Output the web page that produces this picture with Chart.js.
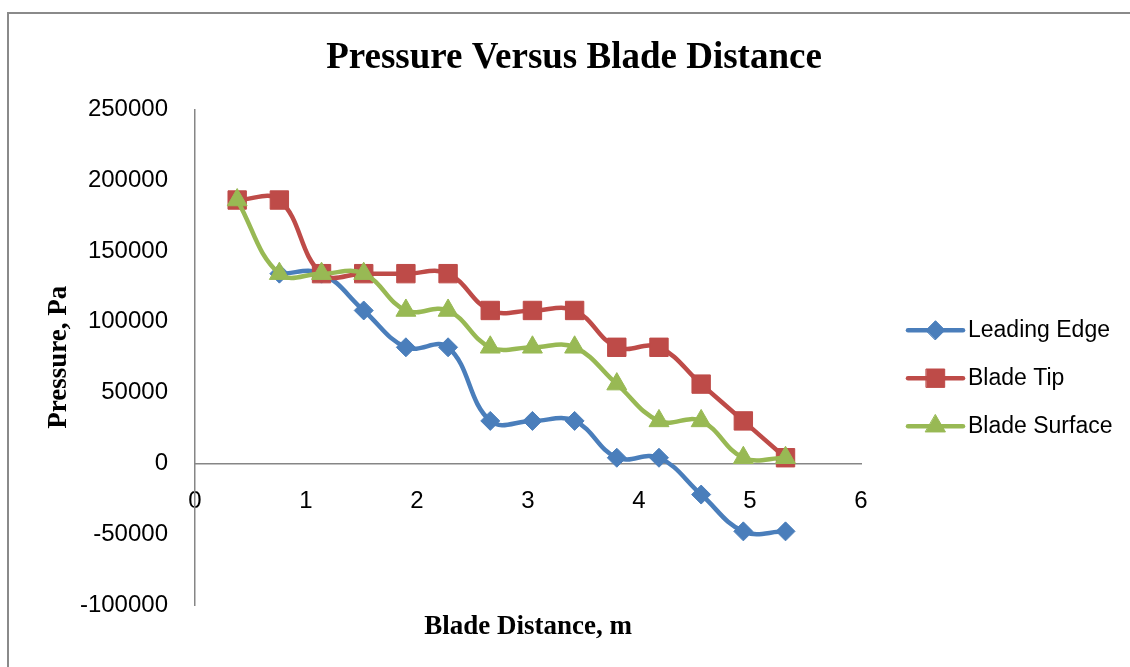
<!DOCTYPE html>
<html>
<head>
<meta charset="utf-8">
<title>Pressure Versus Blade Distance</title>
<script src="https://cdn.jsdelivr.net/npm/chart.js@4.4.1/dist/chart.umd.min.js"></script>
<style>
  html, body { margin: 0; padding: 0; background: #fff; }
  canvas { display: block; }
</style>
</head>
<body>
<canvas id="canvas" width="1130" height="667"></canvas>
<script>
// blade distance (m) and pressure (Pa)
var distance = [0.38, 0.76, 1.14, 1.52, 1.90, 2.28, 2.66, 3.04, 3.42, 3.80, 4.18, 4.56, 4.94, 5.32];
var leadingEdge = [null, 134000, 134000, 108000, 82000, 82000, 30000, 30000, 30000, 4000, 4000, -22000, -48000, -48000];
var bladeTip = [186000, 186000, 134000, 134000, 134000, 134000, 108000, 108000, 108000, 82000, 82000, 56000, 30000, 4000];
var bladeSurface = [186000, 134000, 134000, 134000, 108000, 108000, 82000, 82000, 82000, 56000, 30000, 30000, 4000, 4000];

var blue = '#4A7EBB', red = '#BE4B48', green = '#98B954';
var axisGrey = '#868686';

function toPoints(values) {
	var pts = [];
	values.forEach(function(v, i) {
		if (v !== null) pts.push({x: distance[i], y: v});
	});
	return pts;
}

// grey frame round the chart (only top and left edges are inside the picture)
var frame = {
	id: 'frame',
	beforeDraw: function(chart) {
		var ctx = chart.ctx;
		ctx.save();
		ctx.strokeStyle = '#8a8a8a';
		ctx.lineWidth = 2;
		ctx.beginPath();
		ctx.moveTo(8, chart.height);
		ctx.lineTo(8, 13);
		ctx.lineTo(chart.width, 13);
		ctx.stroke();
		ctx.restore();
	}
};

// Excel style legend: line with marker, then the label
var sideLegend = {
	id: 'sideLegend',
	afterDraw: function(chart) {
		var ctx = chart.ctx, area = chart.chartArea;
		var x0 = area.right + 47, x1 = x0 + 55, tx = x1 + 5;
		var yMid = (area.top + area.bottom) / 2 + 21;
		ctx.save();
		ctx.font = '23px "Liberation Sans"';
		ctx.textBaseline = 'middle';
		ctx.textAlign = 'left';
		chart.data.datasets.forEach(function(ds, i) {
			var y = yMid + (i - 1) * 48;
			ctx.strokeStyle = ds.borderColor;
			ctx.lineWidth = ds.borderWidth;
			ctx.lineCap = 'round';
			ctx.beginPath();
			ctx.moveTo(x0, y);
			ctx.lineTo(x1, y);
			ctx.stroke();
			ctx.fillStyle = ds.backgroundColor;
			ctx.lineWidth = 1;
			Chart.helpers.drawPoint(ctx, {pointStyle: ds.pointStyle, radius: ds.pointRadius, rotation: 0, borderWidth: 1}, (x0 + x1) / 2, y);
			ctx.fillStyle = '#000';
			ctx.fillText(ds.label, tx, y);
		});
		ctx.restore();
	}
};

var config = {
	type: 'line',
	data: {
		datasets: [{
			label: 'Leading Edge',
			data: toPoints(leadingEdge),
			borderColor: blue,
			backgroundColor: blue,
			pointStyle: 'rectRot',
			pointRadius: 9.5,
			borderWidth: 4.5,
			pointBorderWidth: 1,
			tension: 0.4,
			order: 2,
			xAxisID: 'x',
			yAxisID: 'y'
		}, {
			label: 'Blade Tip',
			data: toPoints(bladeTip),
			borderColor: red,
			backgroundColor: red,
			pointStyle: 'rect',
			pointRadius: 13,
			borderWidth: 4.5,
			pointBorderWidth: 1,
			tension: 0.4,
			order: 1,
			xAxisID: 'x',
			yAxisID: 'y'
		}, {
			label: 'Blade Surface',
			data: toPoints(bladeSurface),
			borderColor: green,
			backgroundColor: green,
			pointStyle: 'triangle',
			pointRadius: 11.5,
			borderWidth: 4.5,
			pointBorderWidth: 1,
			tension: 0.4,
			order: 0,
			xAxisID: 'x',
			yAxisID: 'y'
		}]
	},
	options: {
		responsive: false,
		animation: false,
		events: [],
		layout: {padding: {left: 18, right: 0, top: 0, bottom: 0}},
		plugins: {
			legend: {display: false},
			tooltip: {enabled: false},
			title: {
				display: true,
				text: 'Pressure Versus Blade Distance',
				color: '#000',
				font: {family: '"Liberation Serif"', size: 37, weight: 'bold'},
				padding: {top: 36, bottom: 29}
			}
		},
		scales: {
			x: {
				type: 'linear',
				position: {y: 0},
				min: 0,
				max: 6,
				grid: {display: false, drawTicks: false},
				border: {display: true, color: axisGrey, width: 1.5},
				ticks: {
					stepSize: 1,
					padding: 24,
					color: '#000',
					font: {family: '"Liberation Sans"', size: 24},
					callback: function(v) { return String(v); }
				}
			},
			y: {
				type: 'linear',
				position: 'left',
				min: -100000,
				max: 250000,
				grid: {display: false, drawTicks: false},
				border: {display: true, color: axisGrey, width: 1.5},
				ticks: {
					stepSize: 50000,
					padding: 27,
					color: '#000',
					font: {family: '"Liberation Sans"', size: 24},
					callback: function(v) { return String(v); }
				},
				title: {
					display: true,
					text: 'Pressure, Pa',
					color: '#000',
					font: {family: '"Liberation Serif"', size: 27, weight: 'bold'},
					padding: {top: 25, bottom: 0}
				},
				afterFit: function(scale) { scale.width = 177; }
			},
			// bottom axis only carries the x title
			xTitle: {
				type: 'linear',
				position: 'bottom',
				min: 0,
				max: 6,
				grid: {display: false, drawTicks: false},
				border: {display: false},
				ticks: {display: false},
				title: {
					display: true,
					text: 'Blade Distance, m',
					color: '#000',
					font: {family: '"Liberation Serif"', size: 27, weight: 'bold'},
					padding: {top: 5, bottom: 24}
				},
				afterFit: function(scale) { scale.height = 62; }
			},
			// empty space on the right for the legend
			legendSpace: {
				type: 'linear',
				position: 'right',
				grid: {display: false, drawTicks: false},
				border: {display: false},
				ticks: {display: false},
				afterFit: function(scale) { scale.width = 269; }
			}
		}
	},
	plugins: [frame, sideLegend]
};

window.onload = function() {
	var ctx = document.getElementById('canvas').getContext('2d');
	window.myLine = new Chart(ctx, config);
};
</script>
</body>
</html>
